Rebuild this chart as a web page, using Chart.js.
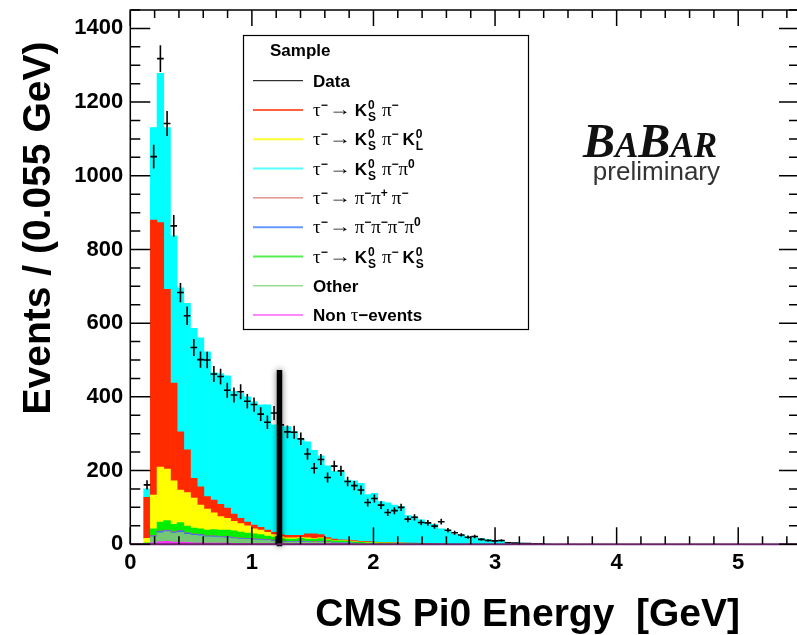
<!DOCTYPE html>
<html>
<head>
<meta charset="utf-8">
<script src="https://cdn.jsdelivr.net/npm/chart.js@4.4.0/dist/chart.umd.min.js"></script>
<style>
  html, body { margin: 0; padding: 0; background: #fff; overflow: hidden; }
  canvas { display: block; }
</style>
</head>
<body>
<canvas id="grafico" width="805" height="635"></canvas>
<script>
// binning: 0.055 GeV bins starting at 0
const binLow = 0
const binWidth = 0.055
const xMax = 5.5
const yMax = 1450

const xTicks = [0, 1, 2, 3, 4, 5]
const yTicks = [0, 200, 400, 600, 800, 1000, 1200, 1400]

// data (events per bin)
const dataCounts = [0,0,161,1052,1318,1142,864,683,620,534,
  501,500,462,455,418,405,414,388,379,353,
  331,356,324,305,304,286,245,206,230,181,
  212,199,170,159,147,113,124,106,86,91,
  100,68,73,59,58,49,61,38,31,25,
  19,21,13,10,9,10,4,3,2,2,
  1,1]

// MC samples, stacked bottom -> top
const nonTau = [0,0,1,4,7,8,6,6,5,4, 4,3,3,3,3,2,2,2,2,2, 2,1,1,1,1,1,1,1,1,1, 1,1,1]
const other = [0,0,1,16,24,26,24,26,22,20, 19,17,16,15,14,13,12,11,10,9, 8,7,6,5,5,5,5,4,5,4, 3,3,3,2,2,2,2,1,1,1, 1,1,1]
const fourPi = [0,0,0,3,4,3,3,4,3,3, 3,2,3,2,3,2,2,2,2,2, 2,2,1,1,1,2,1,1,1,1, 1,1,1,1]
const threePi = [0,0,0,1,1,1,1,1,1,1, 1,1,1,1,1,1,1,1,1,1, 1,1,1,1,1,1,1,1,1,1]
const ksPiKs = [0,0,2,18,24,26,20,22,18,16, 15,15,17,17,17,18,16,14,13,12, 9,8,6,6,6,7,6,6,7,5, 4,4,3,3,3,2,2,2,2,1, 1,1,1,1]
const ksPiKl = [0,0,12,91,149,140,118,88,91,81, 64,57,45,37,32,26,23,20,14,12, 10,7,5,3,3,2,3,2,2,2, 1,1,1,1,1,1,1,1,1,1, 1]
const ksPi = [0,0,111,747,664,488,265,158,116,54, 50,34,35,33,28,20,14,10,10,8, 6,6,6,7,7,6,11,13,9,4, 4,2,2,3,2,2,1,1,1,1, 1,1,1,1,2,1,1]
const ksPiPi0 = [0,0,23,251,405,439,400,391,398,407,
  404,393,345,355,359,333,339,340,335,332,
  340,292,293,295,282,261,250,227,214,195,
  184,184,163,162,157,128,132,111,107,102,
  98,75,71,64,56,53,41,37,27,24,
  19,18,15,13,10,8,4,3,3,2,
  2,1,1]

// the cut marker
const cutEnergy = 1.227
const cutHeight = 473

const FB = s => `bold ${s}px "Liberation Sans", Helvetica, Arial, sans-serif`
const FG = s => `${s}px "Liberation Serif", "Times New Roman", serif`

function toPoints(arr) {
  return arr.map((v, i) => ({ x: binLow + (i + 0.5) * binWidth, y: v }))
}

function hist(label, arr, color) {
  return {
    type: 'bar', label: label, data: toPoints(arr),
    backgroundColor: color, borderWidth: 0,
    barPercentage: 1, categoryPercentage: 1,
    xAxisID: 'x', yAxisID: 'y', stack: 'mc'
  }
}

// legend: [line colour, line width, rich text parts]
const tauTo = [['g', 'τ'], ['sup', '−'], 1, ['arr'], 4]
const legendRows = [
  ['#000000', 1, [['b', 'Data']]],
  ['#ff6040', 2, tauTo.concat([['b', 'K'], ['ss', '0', 'S'], 6, ['g', 'π'], ['sup', '−']])],
  ['#ffff30', 2, tauTo.concat([['b', 'K'], ['ss', '0', 'S'], 6, ['g', 'π'], ['sup', '−'], 4, ['b', 'K'], ['ss', '0', 'L']])],
  ['#55ffff', 2, tauTo.concat([['b', 'K'], ['ss', '0', 'S'], 6, ['g', 'π'], ['sup', '−'], ['g', 'π'], ['sup', '0']])],
  ['#d06050', 1, tauTo.concat([['g', 'π'], ['sup', '−'], ['g', 'π'], ['sup', '+'], 4, ['g', 'π'], ['sup', '−']])],
  ['#6699ff', 2, tauTo.concat([['g', 'π'], ['sup', '−'], ['g', 'π'], ['sup', '−'], ['g', 'π'], ['sup', '−'], ['g', 'π'], ['sup', '0']])],
  ['#55ee55', 2, tauTo.concat([['b', 'K'], ['ss', '0', 'S'], 6, ['g', 'π'], ['sup', '−'], 4, ['b', 'K'], ['ss', '0', 'S']])],
  ['#66cc66', 1, [['b', 'Other']]],
  ['#ff88ff', 2, [['b', 'Non '], ['g', 'τ'], ['b', '−events']]]
]

function drawRich(ctx, x, y, parts) {
  ctx.textAlign = 'left'
  ctx.textBaseline = 'alphabetic'
  for (const p of parts) {
    if (typeof p === 'number') { x += p; continue }
    const kind = p[0]
    if (kind === 'b') {
      ctx.font = FB(17); ctx.fillText(p[1], x, y); x += ctx.measureText(p[1]).width
    } else if (kind === 'g') {
      ctx.font = FG(19); ctx.fillText(p[1], x, y); x += ctx.measureText(p[1]).width
    } else if (kind === 'sup') {
      ctx.font = FB(12); ctx.fillText(p[1], x, y - 7); x += ctx.measureText(p[1]).width
    } else if (kind === 'ss') {
      ctx.font = FB(12)
      ctx.fillText(p[1], x + 1, y - 7)
      ctx.fillText(p[2], x + 1, y + 5)
      x += Math.max(ctx.measureText(p[1]).width, ctx.measureText(p[2]).width) + 1
    } else if (kind === 'arr') {
      ctx.save()
      ctx.font = FG(18)
      const w = ctx.measureText('→').width
      ctx.translate(x, y - 1)
      ctx.scale(22 / w, 1)
      ctx.fillText('→', 0, 0)
      ctx.restore()
      x += 22
    }
  }
}

const decor = {
  id: 'decor',
  beforeDraw(chart) {
    const ctx = chart.ctx
    ctx.save()
    ctx.fillStyle = '#fff'
    ctx.fillRect(0, 0, chart.width, chart.height)
    ctx.restore()
  },
  afterDatasetsDraw(chart) {
    const ctx = chart.ctx
    const xs = chart.scales.x, ys = chart.scales.yd
    const a = chart.chartArea
    ctx.save()
    ctx.beginPath()
    ctx.rect(a.left, a.top, a.right - a.left, a.bottom - a.top)
    ctx.clip()
    // data crosses with sqrt(N) errors
    ctx.strokeStyle = '#000'
    ctx.lineWidth = 1.6
    dataCounts.forEach((n, i) => {
      if (n <= 0) return
      const lo = binLow + i * binWidth
      const x0 = xs.getPixelForValue(lo), x1 = xs.getPixelForValue(lo + binWidth)
      const xc = (x0 + x1) / 2
      const e = Math.sqrt(n)
      ctx.beginPath()
      ctx.moveTo(x0, ys.getPixelForValue(n)); ctx.lineTo(x1, ys.getPixelForValue(n))
      ctx.moveTo(xc, ys.getPixelForValue(n + e)); ctx.lineTo(xc, ys.getPixelForValue(n - e))
      ctx.stroke()
    })
    ctx.restore()

    // cut marker
    ctx.save()
    ctx.shadowColor = 'rgba(0,0,0,0.55)'
    ctx.shadowBlur = 6
    ctx.strokeStyle = '#000'
    ctx.lineWidth = 5.5
    const cx = xs.getPixelForValue(cutEnergy)
    ctx.beginPath()
    ctx.moveTo(cx, ys.getPixelForValue(cutHeight))
    ctx.lineTo(cx, ys.getPixelForValue(0) + 2)
    ctx.stroke()
    ctx.restore()
  },
  afterDraw(chart) {
    const ctx = chart.ctx
    const a = chart.chartArea
    const xs = chart.scales.x, ys = chart.scales.y
    ctx.save()

    // frame
    ctx.strokeStyle = '#000'
    ctx.lineWidth = 1.5
    ctx.beginPath()
    ctx.moveTo(a.left, a.bottom); ctx.lineTo(a.left, a.top); ctx.lineTo(a.right, a.top); ctx.lineTo(a.right, a.bottom)
    ctx.stroke()
    ctx.strokeStyle = '#6b246b'
    ctx.lineWidth = 2
    ctx.beginPath(); ctx.moveTo(a.left, a.bottom); ctx.lineTo(a.right, a.bottom); ctx.stroke()

    // ticks drawn inside the frame
    ctx.strokeStyle = '#000'
    ctx.lineWidth = 1.5
    ctx.beginPath()
    for (let v = 0; v <= yMax; v += 50) {
      const py = ys.getPixelForValue(v)
      const len = (v % 200 === 0) ? 20 : 10
      ctx.moveTo(a.left, py); ctx.lineTo(a.left + len, py)
      ctx.moveTo(a.right, py); ctx.lineTo(a.right - len, py)
    }
    for (let k = 0; k * 0.2 <= xMax + 1e-9; k++) {
      const px = xs.getPixelForValue(k * 0.2)
      const major = k % 5 === 0
      ctx.moveTo(px, a.bottom); ctx.lineTo(px, a.bottom - (major ? 17 : 8))
      ctx.moveTo(px, a.top); ctx.lineTo(px, a.top + (major ? 16 : 8))
    }
    ctx.stroke()

    // axis titles
    ctx.fillStyle = '#000'
    ctx.font = FB(39)
    ctx.textAlign = 'right'
    ctx.textBaseline = 'alphabetic'
    ctx.fillText('CMS Pi0 Energy  [GeV]', 740, 626)
    ctx.save()
    ctx.translate(50, 228)
    ctx.rotate(-Math.PI / 2)
    ctx.textAlign = 'center'
    ctx.fillText('Events / (0.055 GeV)', 0, 0)
    ctx.restore()

    // legend
    const L = { x: 243, y: 35, w: 285, h: 294 }
    ctx.fillStyle = '#fff'
    ctx.fillRect(L.x, L.y, L.w, L.h)
    ctx.strokeStyle = '#000'
    ctx.lineWidth = 1.2
    ctx.strokeRect(L.x + 0.5, L.y + 0.5, L.w, L.h)
    ctx.fillStyle = '#000'
    ctx.font = FB(17)
    ctx.textAlign = 'left'
    ctx.fillText('Sample', 270, 56)
    legendRows.forEach((r, i) => {
      const yc = 80.7 + i * 29.3
      ctx.strokeStyle = r[0]
      ctx.lineWidth = r[1]
      ctx.beginPath(); ctx.moveTo(253, yc); ctx.lineTo(303, yc); ctx.stroke()
      ctx.fillStyle = '#000'
      drawRich(ctx, 313, yc + 6, r[2])
    })

    // BaBar logo
    ctx.save()
    ctx.filter = 'blur(0.5px)'
    ctx.fillStyle = '#111'
    let bx = 583
    const big = 'italic bold 48px "Liberation Serif", serif'
    const small = 'italic bold 35px "Liberation Serif", serif'
    ;[['B', big], ['A', small], ['B', big], ['AR', small]].forEach(s => {
      ctx.font = s[1]
      ctx.fillText(s[0], bx, 157)
      bx += ctx.measureText(s[0]).width
    })
    ctx.fillStyle = '#333'
    ctx.font = '26px "Liberation Sans", Arial, sans-serif'
    ctx.textAlign = 'right'
    ctx.fillText('preliminary', 720, 180)
    ctx.restore()

    ctx.restore()
  }
}

const canvas = document.getElementById('grafico')
const ctx = canvas.getContext('2d')

const tickFont = { family: '"Liberation Sans", Arial', weight: 'bold', size: 22 }

new Chart(ctx, {
  type: 'bar',
  data: {
    datasets: [
      hist('Non τ-events', nonTau, '#ff33ff'),
      hist('Other', other, '#74c874'),
      hist('τ→πππ π0', fourPi, '#3c6cff'),
      hist('τ→πππ', threePi, '#d9634f'),
      hist('τ→KS π KS', ksPiKs, '#00ee00'),
      hist('τ→KS π KL', ksPiKl, '#ffff00'),
      hist('τ→KS π', ksPi, '#ff2a00'),
      hist('τ→KS π π0', ksPiPi0, '#00ffff'),
      {
        type: 'scatter', label: 'Data', data: toPoints(dataCounts),
        xAxisID: 'x', yAxisID: 'yd', pointRadius: 0, showLine: false
      }
    ]
  },
  options: {
    responsive: false,
    animation: false,
    layout: { padding: { top: 10, right: 6, left: 0, bottom: 0 } },
    plugins: { legend: { display: false }, tooltip: { enabled: false } },
    scales: {
      x: {
        type: 'linear', min: 0, max: xMax, stacked: true, offset: false,
        grid: { display: false, drawTicks: false, offset: false },
        border: { display: false },
        afterBuildTicks: s => { s.ticks = xTicks.map(v => ({ value: v })) },
        ticks: { color: '#000', font: tickFont, padding: 6, maxRotation: 0, autoSkip: false, callback: v => String(v) },
        afterFit: s => { s.height = 90.8; s.paddingLeft = 0; s.paddingRight = 0 }
      },
      y: {
        min: 0, max: yMax, stacked: true,
        grid: { display: false, drawTicks: false },
        border: { display: false },
        afterBuildTicks: s => { s.ticks = yTicks.map(v => ({ value: v })) },
        ticks: { color: '#000', font: tickFont, padding: 7, callback: v => String(v) },
        afterFit: s => { s.width = 130.3; s.paddingTop = 0; s.paddingBottom = 0 }
      },
      yd: { display: false, min: 0, max: yMax }
    }
  },
  plugins: [decor]
})
</script>
</body>
</html>
